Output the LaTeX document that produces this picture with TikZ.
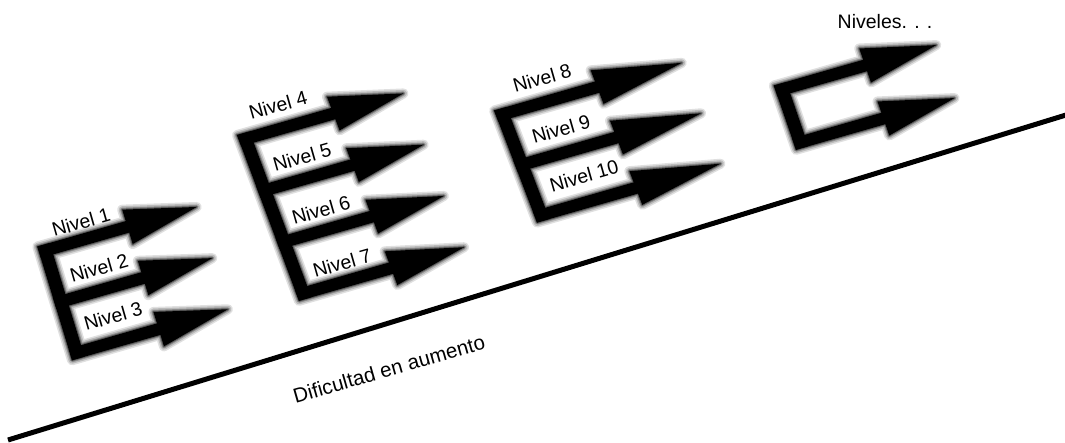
\documentclass[tikz,border=0pt]{standalone}
\usepackage{fontspec}
\setmainfont{Liberation Sans}
\newcommand\arrowpath[3]{(0,#1-6) -- (#2,#1-6) -- (#2,#1-18) -- (#3,#1) -- (#2,#1+18) -- (#2,#1+6) -- (0,#1+6) -- cycle}
\newcommand\barpath[1]{(0,0) -- (13,0) -- (13,#1) -- (0,#1) -- cycle}
\newcommand\glowpath[1]{\foreach \w/\o in {10/0.12,7/0.16,4/0.25,2/0.35}{\draw[line width=\w pt, opacity=\o, line join=round] #1;}}
\tikzset{
  lbl/.style={font=\fontsize{19.5}{22}\selectfont, rotate=16, inner sep=0pt},
  baseline line/.style={line width=5pt, black},
}
\begin{document}
\begin{tikzpicture}[x=1pt,y=-1pt]
\useasboundingbox (0,0) rectangle (1065,442);
\fill[white] (0,0) rectangle (1065,442);

% group 1
\begin{scope}[shift={(37.3,246.5)}, x={(0.961pt,0.276pt)}, y={(0.292pt,-0.956pt)}]
  \def\G{\barpath{119} \arrowpath{6}{92}{164} \arrowpath{59.5}{92}{164} \arrowpath{113}{92}{164}}
  \glowpath{\G}
  \fill \barpath{119};
  \fill \arrowpath{6}{92}{164};
  \fill \arrowpath{59.5}{92}{164};
  \fill \arrowpath{113}{92}{164};
\end{scope}

% group 2
\begin{scope}[shift={(237,135)}, x={(0.961pt,0.276pt)}, y={(0.350pt,-0.937pt)}]
  \def\G{\barpath{177} \arrowpath{6}{98}{171} \arrowpath{61}{98}{172} \arrowpath{116}{98}{173} \arrowpath{171}{98}{174}}
  \glowpath{\G}
  \fill \barpath{177};
  \fill \arrowpath{6}{98}{171};
  \fill \arrowpath{61}{98}{172};
  \fill \arrowpath{116}{98}{173};
  \fill \arrowpath{171}{98}{174};
\end{scope}

% group 3
\begin{scope}[shift={(494.1,110.5)}, x={(0.961pt,0.276pt)}, y={(0.358pt,-0.934pt)}]
  \def\G{\barpath{120} \arrowpath{6}{105}{193} \arrowpath{60}{105}{193} \arrowpath{114}{105}{193}}
  \glowpath{\G}
  \fill \barpath{120};
  \fill \arrowpath{6}{105}{193};
  \fill \arrowpath{60}{105}{193};
  \fill \arrowpath{114}{105}{193};
\end{scope}

% group 4
\begin{scope}[shift={(773.8,85.5)}, x={(0.961pt,0.276pt)}, y={(0.326pt,-0.946pt)}]
  \def\G{\barpath{68} \arrowpath{6}{93}{167} \arrowpath{62}{93}{167}}
  \glowpath{\G}
  \fill \barpath{68};
  \fill \arrowpath{6}{93}{167};
  \fill \arrowpath{62}{93}{167};
\end{scope}

% labels
\node[lbl] (n1) at (81,222) {Nivel 1};
\node[lbl] (n2) at (99,268) {Nivel 2};
\node[lbl] (n3) at (113,316) {Nivel 3};
\node[lbl] (n4) at (278,105) {Nivel 4};
\node[lbl] (n5) at (302,157) {Nivel 5};
\node[lbl] (n6) at (321,210) {Nivel 6};
\node[lbl] (n7) at (342,263) {Nivel 7};
\node[lbl] (n8) at (542,78) {Nivel 8};
\node[lbl] (n9) at (561,129) {Nivel 9};
\node[lbl] (n10) at (584,176) {Nivel 10};
\node[font=\fontsize{19.5}{22}\selectfont, inner sep=0pt] (nmore) at (885,21.5) {Niveles. . .};
\node[font=\fontsize{20.5}{22}\selectfont, rotate=16, inner sep=0pt] (dif) at (389,369) {Dificultad en aumento};

% baseline
\coordinate (b1) at (8,440);
\coordinate (b2) at (1066,115);
\draw[baseline line] (b1) -- (b2);
\end{tikzpicture}
\end{document}
